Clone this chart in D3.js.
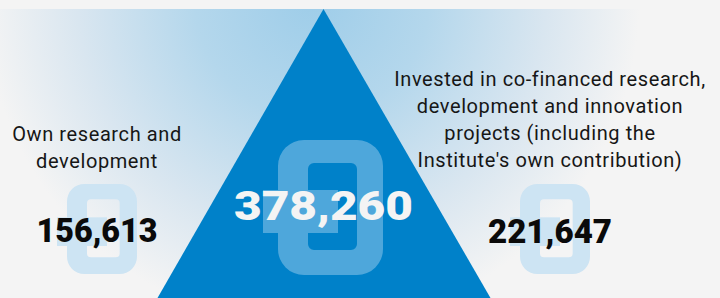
<!DOCTYPE html>
<html lang="en">
<head>
  <meta charset="UTF-8">
  <title>R&D investment</title>
  <script src="https://d3js.org/d3.v7.min.js"></script>
  <style>
    body {
      margin: 0;
      background-color: #f4f4f4;
    }
    .label {
      font-family: Roboto, "Noto Sans", sans-serif;
      font-size: 20px;
      letter-spacing: 0.6px;
      fill: #161616;
    }
    .value {
      font-family: Roboto, "Noto Sans", sans-serif;
      font-weight: 900;
    }
  </style>
</head>
<body>
  <svg width="720" height="298"></svg>
  <script>
    // the two parts and the total they add up to
    const keys = ["own", "total", "cofinanced"];
    const partKeys = ["own", "cofinanced"];
    const partValues = [156613, 221647];
    const partLabels = [
      ["Own research and", "development"],
      ["Invested in co-financed research,", "development and innovation",
       "projects (including the", "Institute's own contribution)"]
    ];
    const labelTop = [141, 86];

    const total = d3.sum(partValues);
    const fmt = d3.format(",");

    const svg = d3.select("svg");
    const W = 720, H = 298;

    const x = d3.scalePoint().domain(keys).range([97, 550]);

    // background glow
    const defs = svg.append("defs");
    const grad = defs.append("radialGradient")
      .attr("id", "glow")
      .attr("gradientUnits", "userSpaceOnUse")
      .attr("cx", 312).attr("cy", 0).attr("r", 390);
    [[0, "#9ecde9"], [0.3, "#b4d7ec"], [0.6, "#d9e6f0"], [0.84, "#f4f4f4"]]
      .forEach(([o, c]) => grad.append("stop").attr("offset", o).attr("stop-color", c));

    svg.append("rect").attr("width", W).attr("height", H).attr("fill", "#f4f4f4");
    svg.append("rect").attr("y", 9).attr("width", W).attr("height", H - 9).attr("fill", "url(#glow)");

    // triangle
    const apexX = x("total");
    const tri = d3.path();
    tri.moveTo(apexX, 9);
    tri.lineTo(apexX + 167, H);
    tri.lineTo(apexX - 166, H);
    tri.closePath();
    svg.append("path").attr("d", tri.toString()).attr("fill", "#0081c9");

    // euro glyph: ring with rounded corners + bar
    function roundRect(p, x0, y0, x1, y1, r) {
      p.moveTo(x0 + r, y0);
      p.lineTo(x1 - r, y0);
      p.arcTo(x1, y0, x1, y0 + r, r);
      p.lineTo(x1, y1 - r);
      p.arcTo(x1, y1, x1 - r, y1, r);
      p.lineTo(x0 + r, y1);
      p.arcTo(x0, y1, x0, y1 - r, r);
      p.lineTo(x0, y0 + r);
      p.arcTo(x0, y0, x0 + r, y0, r);
      p.closePath();
    }
    function euro(cx, cy, s, color) {
      const g = svg.append("g").attr("fill", color);
      const ring = d3.path();
      roundRect(ring, cx - 52.5 * s, cy - 67.5 * s, cx + 52.5 * s, cy + 67.5 * s, 26 * s);
      roundRect(ring, cx - 22.5 * s, cy - 44.5 * s, cx + 26.5 * s, cy + 42.5 * s, 6 * s);
      g.append("path").attr("d", ring.toString()).attr("fill-rule", "evenodd");
      g.append("rect")
        .attr("x", cx - 67.5 * s).attr("y", cy - 17.5 * s)
        .attr("width", 75 * s).attr("height", 43 * s);
    }
    euro(x("own") + 5, 229, 2 / 3, "#cde4f3");
    euro(x("cofinanced") + 5, 229, 2 / 3, "#cde4f3");
    euro(x("total") + 7, 207.5, 1, "#4ea7db");

    // labels
    partKeys.forEach((k, i) => {
      partLabels[i].forEach((line, j) => {
        svg.append("text").attr("class", "label")
          .attr("x", x(k)).attr("y", labelTop[i] + j * 27)
          .attr("text-anchor", "middle")
          .text(line);
      });
    });

    // numbers
    const numbers = [
      { key: "own", v: partValues[0], y: 242, size: 34, w: 121, c: "#0a0a0a" },
      { key: "cofinanced", v: partValues[1], y: 243, size: 34, w: 124, c: "#0a0a0a" },
      { key: "total", v: total, y: 220, size: 40, w: 179, c: "#f4f4f4" }
    ];
    svg.selectAll("text.value").data(numbers).enter()
      .append("text").attr("class", "value")
      .attr("x", d => x(d.key) - d.w / 2)
      .attr("y", d => d.y)
      .attr("font-size", d => d.size)
      .attr("fill", d => d.c)
      .attr("textLength", d => d.w)
      .attr("lengthAdjust", "spacingAndGlyphs")
      .text(d => fmt(d.v));
  </script>
</body>
</html>
